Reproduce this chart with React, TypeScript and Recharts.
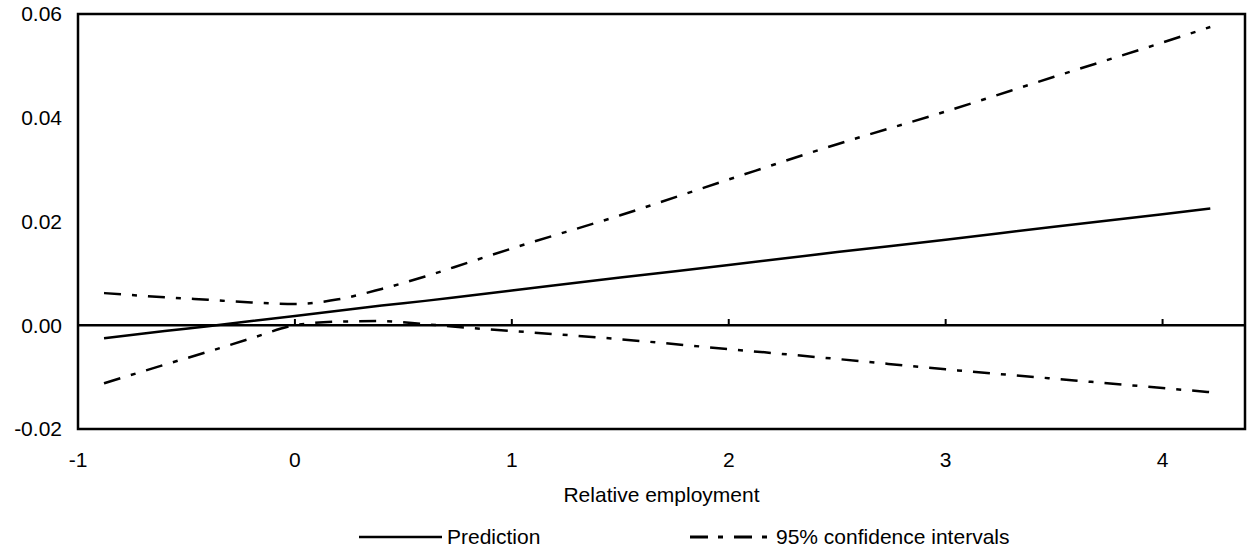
import React from 'react';
import { LineChart, Line, XAxis, YAxis, ReferenceLine, ReferenceArea } from 'recharts';

const xValues = [-0.88, -0.6, -0.4, -0.2, 0, 0.2, 0.4, 0.6, 0.8, 1.0, 1.5, 2.0, 2.5, 3.0, 3.5, 4.0, 4.22];
const prediction = [-0.0025, -0.0011, -0.0002, 0.0008, 0.0018, 0.0028, 0.0038, 0.0047, 0.0057, 0.0067, 0.0092, 0.0116, 0.0141, 0.0165, 0.019, 0.0214, 0.0225];
const upperCI = [0.0062, 0.0054, 0.0049, 0.0044, 0.0041, 0.005, 0.007, 0.0094, 0.0121, 0.0148, 0.0212, 0.0281, 0.0349, 0.0412, 0.0479, 0.0545, 0.0575];
const lowerCI = [-0.0112, -0.0076, -0.0051, -0.0025, 0.0, 0.0007, 0.0008, 0.0002, -0.0005, -0.0011, -0.0027, -0.0046, -0.0065, -0.0085, -0.0103, -0.0121, -0.0129];

const xTicks = [-1, 0, 1, 2, 3, 4];
const yTicks = [-0.02, 0, 0.02, 0.04, 0.06];
const X_MIN = -1;
const X_MAX = 4.38;
const Y_MIN = -0.02;
const Y_MAX = 0.06;

const FONT = '"Liberation Sans", Arial, sans-serif';
const FONT_SIZE = 21;
const DASH_DOT = '17 11 5 11';

const rows = xValues.map((x, i) => ({
    x,
    prediction: prediction[i],
    upper: upperCI[i],
    lower: lowerCI[i],
}));

const tickStyle = { fill: '#000', fontSize: FONT_SIZE, fontFamily: FONT };

export default function App() {
    return (
        <div style={{ position: 'absolute', left: 0, top: 0, width: 1247, height: 550, background: '#fff', fontFamily: FONT }}>
            <LineChart width={1247} height={550} data={rows} margin={{ top: 14, right: 2, left: 0, bottom: 0 }}>
                <XAxis
                    type="number"
                    dataKey="x"
                    domain={[X_MIN, X_MAX]}
                    ticks={xTicks}
                    allowDataOverflow
                    axisLine={false}
                    tickLine={false}
                    tickMargin={17}
                    height={121}
                    tick={tickStyle}
                    label={{ value: 'Relative employment', position: 'insideTop', offset: 58, fill: '#000', fontSize: FONT_SIZE, fontFamily: FONT }}
                />
                <YAxis
                    type="number"
                    domain={[Y_MIN, Y_MAX]}
                    ticks={yTicks}
                    allowDataOverflow
                    axisLine={false}
                    tickLine={false}
                    tickMargin={10}
                    width={78}
                    tick={tickStyle}
                    tickFormatter={(v: number) => v.toFixed(2)}
                />
                <ReferenceArea
                    x1={X_MIN}
                    x2={X_MAX}
                    y1={Y_MIN}
                    y2={Y_MAX}
                    fill="none"
                    stroke="#000"
                    strokeWidth={2.5}
                    ifOverflow="visible"
                />
                <ReferenceLine y={0} stroke="#000" strokeWidth={2.5} />
                {xTicks.slice(1).map((t) => (
                    <ReferenceLine
                        key={t}
                        segment={[{ x: t, y: 0 }, { x: t, y: 0.0012 }]}
                        stroke="#000"
                        strokeWidth={2}
                    />
                ))}
                <Line type="monotone" dataKey="upper" stroke="#000" strokeWidth={2.5} strokeDasharray={DASH_DOT} dot={false} isAnimationActive={false} />
                <Line type="monotone" dataKey="lower" stroke="#000" strokeWidth={2.5} strokeDasharray={DASH_DOT} dot={false} isAnimationActive={false} />
                <Line type="monotone" dataKey="prediction" stroke="#000" strokeWidth={2.5} dot={false} isAnimationActive={false} />
            </LineChart>

            {/* legend */}
            <div style={{ position: 'absolute', left: 359, top: 526, display: 'flex', alignItems: 'center', height: 22 }}>
                <svg width={83} height={22}>
                    <line x1={0} y1={11} x2={83} y2={11} stroke="#000" strokeWidth={2.5} />
                </svg>
                <span style={{ fontSize: FONT_SIZE, lineHeight: '22px', marginLeft: 5 }}>Prediction</span>
            </div>
            <div style={{ position: 'absolute', left: 690, top: 526, display: 'flex', alignItems: 'center', height: 22 }}>
                <svg width={78} height={22}>
                    <line x1={0} y1={11} x2={78} y2={11} stroke="#000" strokeWidth={3} strokeDasharray="18 10 5 11" />
                </svg>
                <span style={{ fontSize: FONT_SIZE, lineHeight: '22px', marginLeft: 8 }}>95% confidence intervals</span>
            </div>
        </div>
    );
}
